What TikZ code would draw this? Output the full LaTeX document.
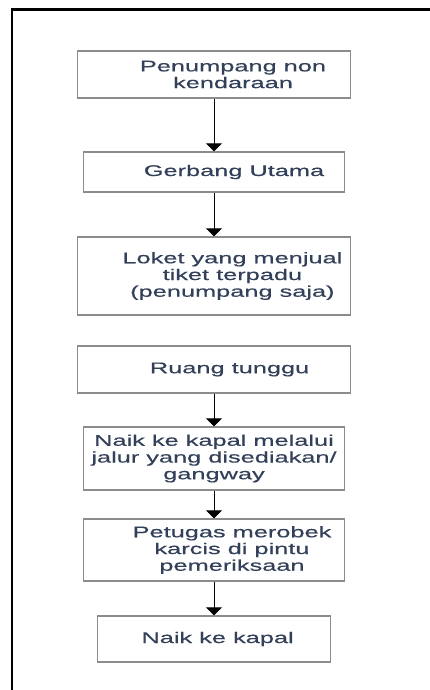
\documentclass[tikz,border=0pt]{standalone}
\usepackage{fontspec}
\setmainfont{Liberation Sans}[FakeStretch=1.64,FakeBold=0.4]
\usepackage{xcolor}
\usepackage{tikz}
\usetikzlibrary{arrows.meta}
\definecolor{flowtext}{HTML}{33405A}
\definecolor{flowgray}{HTML}{8C8C8C}

\begin{document}
\begin{tikzpicture}[font=\fontsize{11}{11.9}\selectfont,
  stepbox/.style={draw=flowgray,line width=0.9pt,fill=white,inner sep=0pt},
  steptext/.style={text=flowtext,align=center},
  flow/.style={-{Triangle[width=0.4cm,length=0.2cm]},line width=0.6pt}]
  \useasboundingbox (0,0) rectangle (10.75,-17.25);
  \draw[line width=1.6pt] (10.75,-0.2375) -- (0.3,-0.2375) -- (0.3,-17.25);
  \node[stepbox,minimum width=6.825cm,minimum height=1.175cm,
    label={[steptext,xshift=0.475cm]center:{Penumpang non\\kendaraan}}] (b1) at (5.35,-1.8625) {};
  \node[stepbox,minimum width=6.525cm,minimum height=1cm,
    label={[steptext,xshift=0.5cm]center:{Gerbang Utama}}] (b2) at (5.35,-4.3) {};
  \node[stepbox,minimum width=6.825cm,minimum height=1.95cm,
    label={[steptext,xshift=0.46cm]center:{Loket yang menjual\\tiket terpadu\\(penumpang saja)}}] (b3) at (5.35,-6.9) {};
  \node[stepbox,minimum width=6.825cm,minimum height=1.175cm,
    label={[steptext,xshift=0.39cm]center:{Ruang tunggu}}] (b4) at (5.35,-9.2375) {};
  \node[stepbox,minimum width=6.525cm,minimum height=1.575cm,
    label={[steptext]center:{Naik ke kapal melalui\\jalur yang disediakan/\\gangway}}] (b5) at (5.35,-11.4625) {};
  \node[stepbox,minimum width=6.525cm,minimum height=1.55cm,
    label={[steptext,xshift=0.45cm]center:{Petugas merobek\\karcis di pintu\\pemeriksaan}}] (b6) at (5.35,-13.75) {};
  \node[stepbox,minimum width=5.825cm,minimum height=1.15cm,
    label={[steptext,xshift=0.09cm]center:{Naik ke kapal}}] (b7) at (5.35,-15.975) {};
  \foreach \a/\b in {b1/b2,b2/b3,b4/b5,b5/b6,b6/b7}
    \draw[flow] (\a) -- (\b);
\end{tikzpicture}
\end{document}
